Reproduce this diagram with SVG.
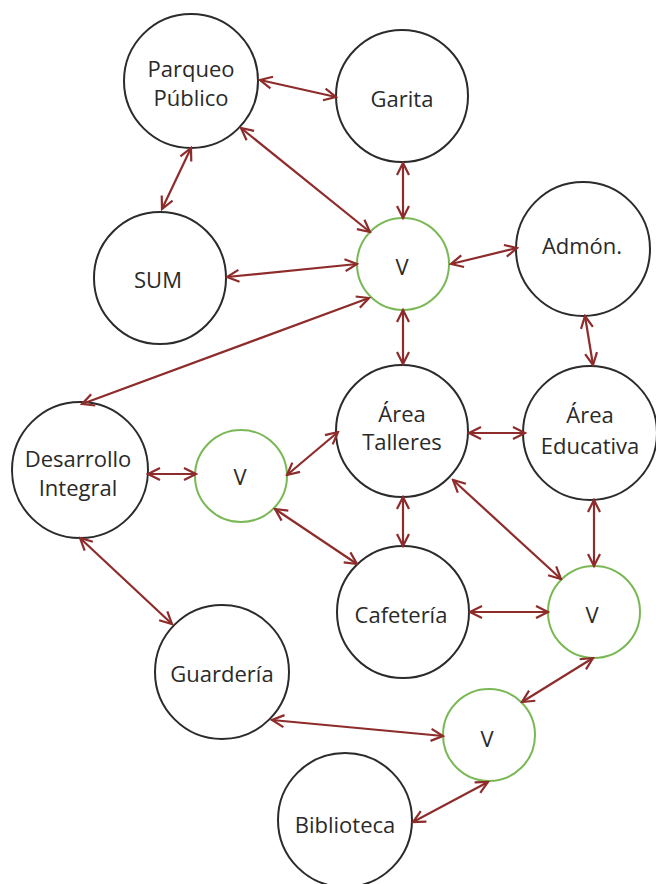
<svg xmlns="http://www.w3.org/2000/svg" width="656" height="884" viewBox="0 0 656 884">
  <defs>
    <style>
      .node { fill: #ffffff; stroke: #2b2b2b; stroke-width: 2; }
      .via { fill: #ffffff; stroke: #7ab856; stroke-width: 2; }
      .label { font-family: "Open Sans", "Noto Sans", "DejaVu Sans", sans-serif; font-size: 22px; fill: #2a2a2a; text-anchor: middle; }
      .link { fill: none; stroke: #8e2b2b; stroke-width: 2.2; marker-start: url(#tip); marker-end: url(#tip); }
    </style>
    <marker id="tip" viewBox="-14 -8 16 16" refX="0" refY="0" markerWidth="16" markerHeight="16" markerUnits="userSpaceOnUse" orient="auto-start-reverse">
      <path d="M -12 -6 L 0 0 L -12 6" fill="none" stroke="#8e2b2b" stroke-width="2.2" stroke-linejoin="miter"/>
    </marker>
  </defs>

  <rect x="0" y="0" width="656" height="884" fill="#ffffff"/>

  <g id="parqueo-publico">
    <circle class="node" cx="191" cy="81" r="67"/>
    <text class="label" x="191" y="77">Parqueo</text>
    <text class="label" x="191" y="106">Público</text>
  </g>
  <g id="garita">
    <circle class="node" cx="402" cy="96" r="66"/>
    <text class="label" x="402" y="107">Garita</text>
  </g>
  <g id="sum">
    <circle class="node" cx="160" cy="278" r="66"/>
    <text class="label" x="158" y="288">SUM</text>
  </g>
  <g id="v-centro">
    <circle class="via" cx="403" cy="264" r="46"/>
    <text class="label" x="402" y="275">V</text>
  </g>
  <g id="admon">
    <circle class="node" cx="583" cy="249" r="67"/>
    <text class="label" x="582" y="254">Admón.</text>
  </g>
  <g id="area-talleres">
    <circle class="node" cx="402" cy="431" r="66"/>
    <text class="label" x="402" y="422">Área</text>
    <text class="label" x="402" y="450">Talleres</text>
  </g>
  <g id="area-educativa">
    <circle class="node" cx="590" cy="433" r="67"/>
    <text class="label" x="590" y="423">Área</text>
    <text class="label" x="590" y="454">Educativa</text>
  </g>
  <g id="desarrollo-integral">
    <circle class="node" cx="80" cy="470" r="68"/>
    <text class="label" x="78" y="467">Desarrollo</text>
    <text class="label" x="78" y="496">Integral</text>
  </g>
  <g id="v-oeste">
    <circle class="via" cx="241" cy="476" r="46"/>
    <text class="label" x="240" y="485">V</text>
  </g>
  <g id="cafeteria">
    <circle class="node" cx="403" cy="612" r="66"/>
    <text class="label" x="401" y="623">Cafetería</text>
  </g>
  <g id="v-este">
    <circle class="via" cx="594" cy="612" r="46"/>
    <text class="label" x="592" y="623">V</text>
  </g>
  <g id="guarderia">
    <circle class="node" cx="222" cy="672" r="67"/>
    <text class="label" x="222" y="682">Guardería</text>
  </g>
  <g id="v-sur">
    <circle class="via" cx="489" cy="735" r="46"/>
    <text class="label" x="487" y="747">V</text>
  </g>
  <g id="biblioteca">
    <circle class="node" cx="345" cy="820" r="67"/>
    <text class="label" x="345" y="833">Biblioteca</text>
  </g>

  <g id="connectors">
    <line class="link" x1="260" y1="80" x2="336" y2="97"/>
    <line class="link" x1="191" y1="148" x2="162" y2="209"/>
    <line class="link" x1="241" y1="128" x2="370" y2="232"/>
    <line class="link" x1="403" y1="163" x2="403" y2="218"/>
    <line class="link" x1="227" y1="277" x2="357" y2="264"/>
    <line class="link" x1="451" y1="264" x2="517" y2="248"/>
    <line class="link" x1="369" y1="298" x2="82" y2="404"/>
    <line class="link" x1="403" y1="310" x2="403" y2="364"/>
    <line class="link" x1="585" y1="316" x2="593" y2="365"/>
    <line class="link" x1="469" y1="433" x2="525" y2="433"/>
    <line class="link" x1="287" y1="475" x2="338" y2="432"/>
    <line class="link" x1="148" y1="474" x2="196" y2="474"/>
    <line class="link" x1="275" y1="509" x2="357" y2="564"/>
    <line class="link" x1="403" y1="497" x2="403" y2="546"/>
    <line class="link" x1="453" y1="480" x2="561" y2="579"/>
    <line class="link" x1="594" y1="500" x2="594" y2="566"/>
    <line class="link" x1="470" y1="612" x2="548" y2="612"/>
    <line class="link" x1="593" y1="658" x2="522" y2="702"/>
    <line class="link" x1="272" y1="720" x2="443" y2="736"/>
    <line class="link" x1="488" y1="782" x2="413" y2="822"/>
    <line class="link" x1="80" y1="538" x2="172" y2="624"/>
  </g>
</svg>
